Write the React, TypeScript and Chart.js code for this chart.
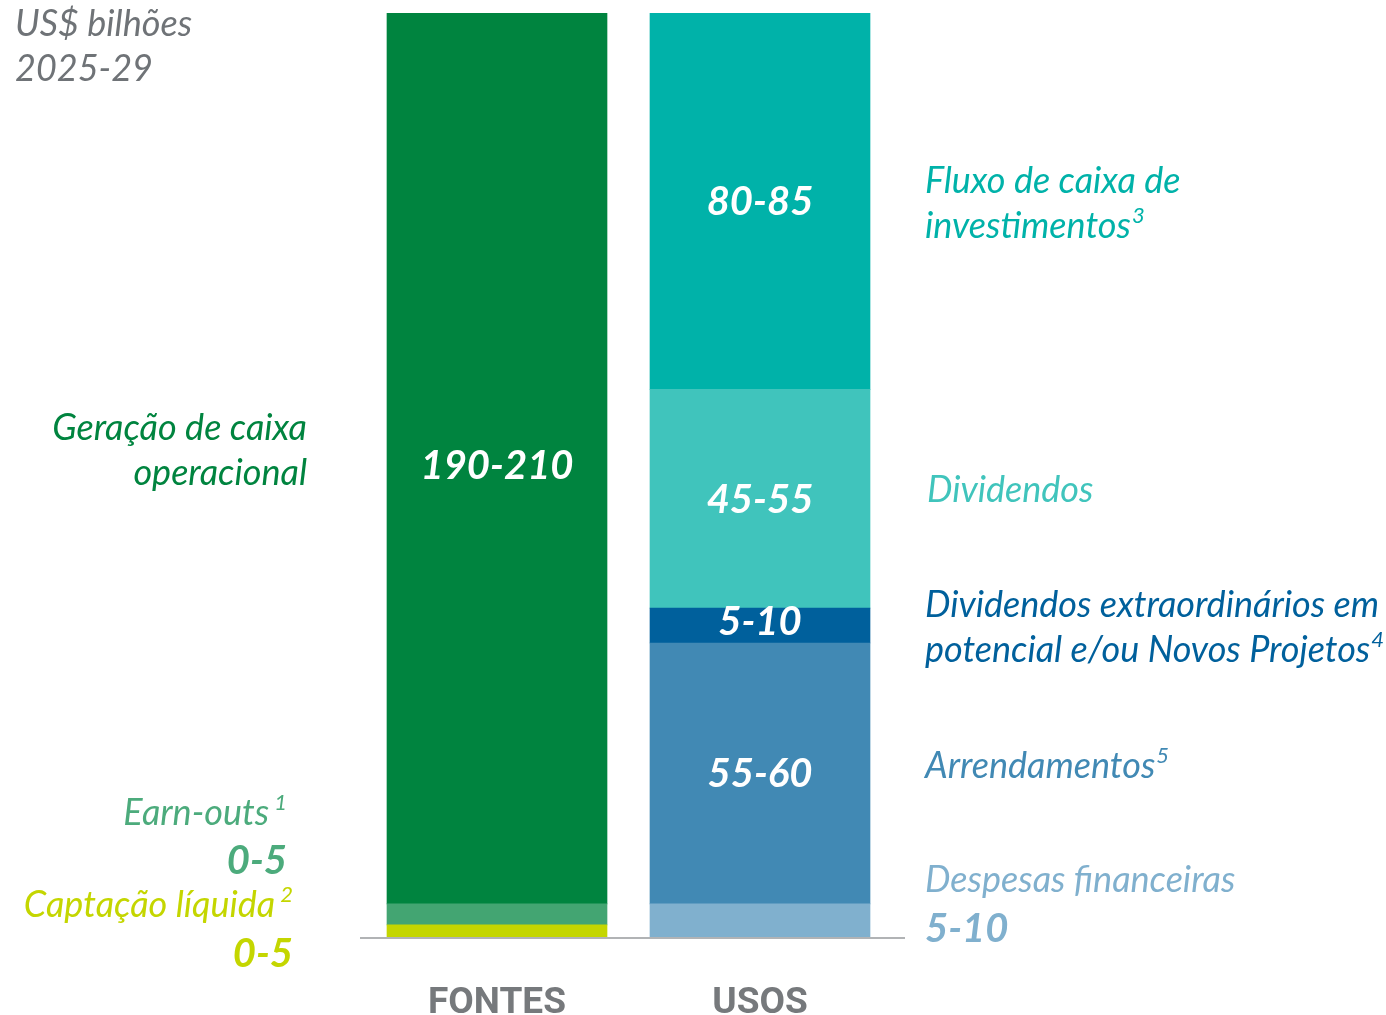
import React, { useEffect, useRef } from "react";
import { Chart, registerables } from "chart.js";

Chart.register(...registerables);

// ---------- data ----------
const categories = ["FONTES", "USOS"];

const fontesSeries = ["Captação líquida", "Earn-outs", "Geração de caixa operacional"];
const fontesValues = [2.9, 5.0, 212.1];
const fontesRanges = ["0-5", "0-5", "190-210"];
const fontesColors = ["#C4D600", "#43A572", "#00843F"];

const usosSeries = [
  "Despesas financeiras",
  "Arrendamentos",
  "Dividendos extraordinários em potencial e/ou Novos Projetos",
  "Dividendos",
  "Fluxo de caixa de investimentos",
];
const usosValues = [7.9, 62.1, 8.3, 52.1, 89.5];
const usosRanges = ["5-10", "55-60", "5-10", "45-55", "80-85"];
const usosColors = ["#80B0CE", "#4189B4", "#00609C", "#40C4BC", "#00B2A9"];

const yMax = 220;

const FONT = "Lato, 'Open Sans', sans-serif";

type Seg = { label: string; value: number; color: string; range: string; cat: number; inside: boolean; dy: number };

const segments: Seg[] = [
  ...fontesSeries.map((s, i) => ({
    label: s, value: fontesValues[i], color: fontesColors[i], range: fontesRanges[i], cat: 0,
    inside: i === 2, dy: i === 2 ? 7 : 0,
  })),
  ...usosSeries.map((s, i) => ({
    label: s, value: usosValues[i], color: usosColors[i], range: usosRanges[i], cat: 1,
    inside: i > 0, dy: i === 2 ? -5 : 0,
  })),
];

type Txt = { lines: { t: string; bold?: boolean; sup?: string }[]; x: number; y: number; lh: number; color: string; align: CanvasTextAlign };

const sideTexts: Txt[] = [
  { lines: [{ t: "US$ bilhões" }, { t: "2025-29" }], x: 15, y: 36, lh: 45, color: "#6F7377", align: "left" },
  { lines: [{ t: "Geração de caixa" }, { t: "operacional" }], x: 307, y: 440, lh: 45, color: "#00843F", align: "right" },
  { lines: [{ t: "Earn-outs", sup: "1" }, { t: fontesRanges[1], bold: true }], x: 287, y: 825, lh: 49, color: "#4CAB7C", align: "right" },
  { lines: [{ t: "Captação líquida", sup: "2" }, { t: fontesRanges[0], bold: true }], x: 293, y: 917, lh: 50, color: "#C4D600", align: "right" },
  { lines: [{ t: "Fluxo de caixa de" }, { t: "investimentos", sup: "3" }], x: 925, y: 193, lh: 45, color: "#00B2A9", align: "left" },
  { lines: [{ t: "Dividendos" }], x: 927, y: 502, lh: 45, color: "#40C4BC", align: "left" },
  { lines: [{ t: "Dividendos extraordinários em" }, { t: "potencial e/ou Novos Projetos", sup: "4" }], x: 925, y: 617, lh: 45, color: "#00609C", align: "left" },
  { lines: [{ t: "Arrendamentos", sup: "5" }], x: 925, y: 778, lh: 45, color: "#4189B4", align: "left" },
  { lines: [{ t: "Despesas financeiras" }, { t: usosRanges[0], bold: true }], x: 925, y: 892, lh: 50, color: "#80B0CE", align: "left" },
];

const annotPlugin = {
  id: "annot",
  beforeDatasetsDraw(chart: any) {
    const ctx = chart.ctx as CanvasRenderingContext2D;
    const y = chart.scales.y.getPixelForValue(0);
    ctx.save();
    ctx.strokeStyle = "#B1B3B5";
    ctx.lineWidth = 2;
    ctx.beginPath();
    ctx.moveTo(360, y + 1);
    ctx.lineTo(905, y + 1);
    ctx.stroke();
    ctx.restore();
  },
  afterDatasetsDraw(chart: any) {
    const ctx = chart.ctx as CanvasRenderingContext2D;
    ctx.save();
    // inside value labels
    segments.forEach((s, di) => {
      if (!s.inside) return;
      const el = chart.getDatasetMeta(di).data[s.cat];
      if (!el) return;
      const cy = (el.y + el.base) / 2 + s.dy;
      ctx.font = `italic 700 40px ${FONT}`;
      ctx.fillStyle = "#FFFFFF";
      ctx.textAlign = "center";
      ctx.textBaseline = "alphabetic";
      ctx.fillText(s.range, el.x, cy + 14);
    });
    // category labels
    const xs = chart.scales.x;
    categories.forEach((c, i) => {
      ctx.font = `700 37px Roboto, sans-serif`;
      ctx.fillStyle = "#76797C";
      ctx.textAlign = "center";
      ctx.fillText(c, xs.getPixelForValue(i), 1013);
    });
    // side texts
    sideTexts.forEach((st) => {
      st.lines.forEach((ln, li) => {
        const by = st.y + li * st.lh;
        const main = ln.bold ? `italic 700 40px ${FONT}` : `italic 400 36px ${FONT}`;
        ctx.fillStyle = st.color;
        ctx.textBaseline = "alphabetic";
        if (st.align === "right") {
          let right = st.x;
          if (ln.sup) {
            ctx.font = `italic 400 22px ${FONT}`;
            ctx.textAlign = "right";
            ctx.fillText(ln.sup, right, by - 15);
            right -= ctx.measureText(ln.sup).width + 5;
          }
          ctx.font = main;
          ctx.textAlign = "right";
          ctx.fillText(ln.t, right, by);
        } else {
          ctx.font = main;
          ctx.textAlign = "left";
          ctx.fillText(ln.t, st.x, by);
          if (ln.sup) {
            const w = ctx.measureText(ln.t).width;
            ctx.font = `italic 400 22px ${FONT}`;
            ctx.fillText(ln.sup, st.x + w + 1, by - 15);
          }
        }
      });
    });
    ctx.restore();
  },
};

export default function App() {
  const ref = useRef<HTMLCanvasElement | null>(null);
  useEffect(() => {
    if (!ref.current) return;
    const datasets = segments.map((s) => ({
      label: s.label,
      data: categories.map((_, ci) => (ci === s.cat ? s.value : null)),
      backgroundColor: s.color,
      borderWidth: 0,
      barThickness: 220,
      stack: "s",
    }));
    const chart = new Chart(ref.current, {
      type: "bar",
      data: { labels: categories, datasets },
      options: {
        responsive: false,
        animation: false,
        layout: { padding: { left: 365.5, right: 494.5, top: 13, bottom: 78 } },
        plugins: { legend: { display: false }, tooltip: { enabled: false } },
        scales: {
          x: { display: false, stacked: true },
          y: { display: false, stacked: true, min: 0, max: yMax },
        },
      },
      plugins: [annotPlugin],
    });
    return () => chart.destroy();
  }, []);
  return (
    <div style={{ position: "absolute", left: 0, top: 0, width: 1386, height: 1015, background: "#fff" }}>
      <canvas ref={ref} width={1386} height={1015} />
    </div>
  );
}
